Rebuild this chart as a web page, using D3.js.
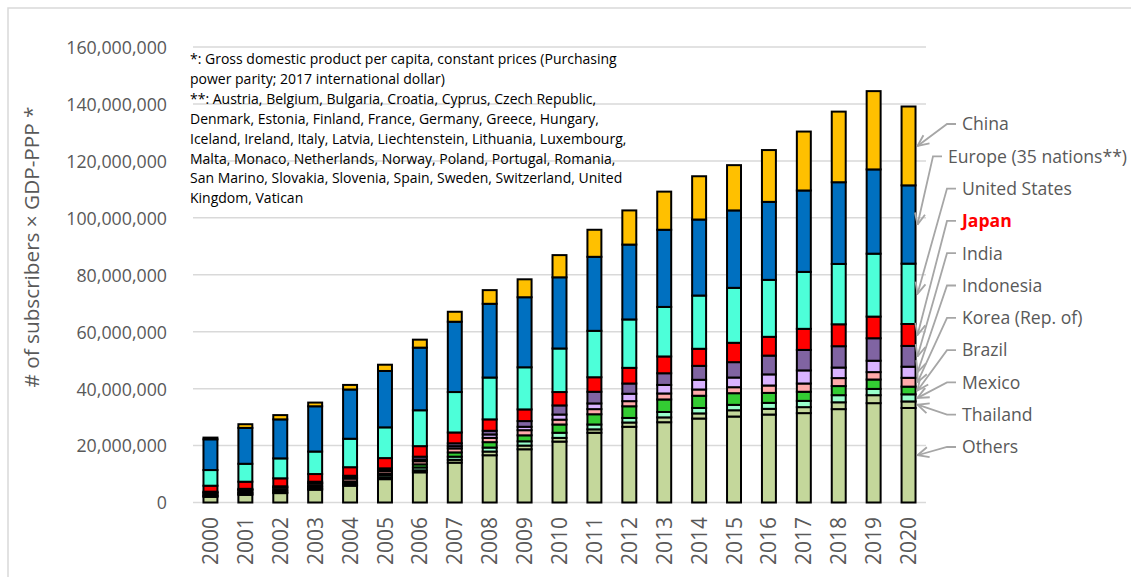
<!DOCTYPE html>
<html>
<head>
<meta charset="utf-8">
<script src="https://cdn.jsdelivr.net/npm/d3@7"></script>
<style>
html,body{margin:0;padding:0;background:#fff;}
svg{display:block;}
</style>
</head>
<body>
<svg id="chart" width="1131" height="577"></svg>
<script>
// ---- DATA (values in millions of "subscribers x GDP-PPP") ----
const years = ["2000","2001","2002","2003","2004","2005","2006","2007","2008","2009","2010",
               "2011","2012","2013","2014","2015","2016","2017","2018","2019","2020"];
const others   = [2.0,2.7,3.3,4.5,5.9,8.2,10.6,14.0,16.6,18.7,21.4,24.5,26.6,28.2,29.5,30.2,30.9,31.4,32.8,34.9,33.2];
const thailand = [0.2,0.2,0.2,0.3,0.3,0.5,0.7,1.0,1.3,1.3,1.3,1.2,1.5,1.7,1.8,2.2,2.0,2.1,2.4,2.8,2.3];
const mexico   = [0.3,0.4,0.4,0.5,0.6,0.8,1.0,1.1,1.4,1.5,1.8,1.7,1.6,1.9,1.9,1.9,2.1,2.2,2.5,2.2,2.5];
const brazil   = [0.3,0.4,0.5,0.5,0.6,0.6,1.1,1.5,1.9,2.1,2.9,3.6,4.1,4.4,4.3,4.1,3.5,3.2,3.2,3.3,2.7];
const korea    = [0.6,0.7,0.8,0.8,1.0,0.9,1.1,1.4,1.5,1.8,1.7,1.8,1.8,2.1,2.2,2.1,2.6,2.9,2.8,2.6,3.1];
const indonesia= [0.1,0.1,0.1,0.2,0.3,0.4,0.6,0.8,1.2,1.2,1.8,2.0,2.6,3.0,3.4,3.4,3.9,4.6,3.7,4.0,3.9];
const india    = [0.3,0.3,0.4,0.5,0.7,0.6,1.0,1.0,1.3,2.0,3.2,4.1,3.6,4.1,4.9,5.4,6.6,7.2,7.5,7.9,7.3];
const japan    = [2.1,2.5,2.8,2.7,3.0,3.6,3.7,3.8,4.0,4.1,4.7,5.1,5.5,5.9,6.0,6.8,6.6,7.4,7.7,7.6,7.7];
const unitedStates = [5.5,6.3,7.0,7.9,10.0,10.8,12.6,14.2,14.7,14.8,15.3,16.3,17.0,17.4,18.7,19.3,20.0,20.0,21.2,22.1,21.2];
const europe   = [10.8,12.6,13.7,15.9,17.3,19.8,22.0,24.7,25.9,24.6,25.0,26.0,26.3,27.1,26.7,27.2,27.4,28.6,28.7,29.6,27.5];
const china    = [0.6,1.3,1.5,1.3,1.6,2.2,2.8,3.5,4.8,6.3,7.8,9.5,12.0,13.4,15.2,15.9,18.2,20.7,24.8,27.5,27.7];

const seriesKeys   = ["Others","Thailand","Mexico","Brazil","Korea (Rep. of)","Indonesia","India","Japan","United States","Europe (35 nations**)","China"];
const seriesValues = [others,thailand,mexico,brazil,korea,indonesia,india,japan,unitedStates,europe,china];
const seriesColors = ["#c4d79b","#c4d79b","#99ffcc","#33cc33","#ffaaaa","#d9b3ff","#8064a2","#ff0000","#4dffd9","#0070c0","#ffc000"];
const yTicks = [0,20000000,40000000,60000000,80000000,100000000,120000000,140000000,160000000];
const yTitle = "# of subscribers \u00d7 GDP-PPP *";
const noteLines = [
  "*: Gross domestic product per capita, constant prices (Purchasing",
  "power parity; 2017 international dollar)",
  "**: Austria, Belgium, Bulgaria, Croatia, Cyprus, Czech Republic,",
  "Denmark, Estonia, Finland, France, Germany, Greece, Hungary,",
  "Iceland, Ireland, Italy, Latvia, Liechtenstein, Lithuania, Luxembourg,",
  "Malta, Monaco, Netherlands, Norway, Poland, Portugal, Romania,",
  "San Marino, Slovakia, Slovenia, Spain, Sweden, Switzerland, United",
  "Kingdom, Vatican"
];

// ---- TABLE ----
const table = years.map((yr,i)=>{
  const row = {year: yr};
  seriesKeys.forEach((k,j)=>{ row[k] = seriesValues[j][i]*1e6; });
  return row;
});

const svg = d3.select("#chart");
const gray = "#595959";
const font = "'Open Sans', 'Noto Sans', sans-serif";

// frame
svg.append("path").attr("d","M8,577 L8,8 L1131,8").attr("fill","none")
  .attr("stroke","#d9d9d9").attr("stroke-width",1.5);

const x = d3.scaleBand().domain(years).range([193,926]).paddingInner(0.6).paddingOuter(0.3);
const y = d3.scaleLinear().domain([0,160000000]).range([502.5,47]);

// gridlines
svg.append("g").selectAll("line").data(yTicks).join("line")
  .attr("x1",193).attr("x2",926)
  .attr("y1",d=>y(d)).attr("y2",d=>y(d))
  .attr("stroke","#d9d9d9").attr("stroke-width",1.5);

// y axis labels
const yAxis = d3.axisLeft(y).tickValues(yTicks).tickSize(0).tickPadding(0).tickFormat(d3.format(","));
const gy = svg.append("g").attr("transform","translate(167,0)").call(yAxis);
gy.select(".domain").remove();
gy.selectAll("text").attr("font-family",font).attr("font-size","17.8px").attr("fill",gray).attr("dy","0.36em");

// x axis labels
const xAxis = d3.axisBottom(x).tickSize(0).tickPadding(0);
const gx = svg.append("g").attr("transform","translate(0,517)").call(xAxis);
gx.select(".domain").remove();
gx.selectAll("text").attr("font-family",font).attr("font-size","21px").attr("fill",gray)
  .attr("text-anchor","end").attr("transform","rotate(-90)")
  .attr("x",0).attr("y",0).attr("dy","0.36em");

// y title
svg.append("text").attr("transform","translate(39,247) rotate(-90)")
  .attr("text-anchor","middle").attr("font-family",font).attr("font-size","19.5px")
  .attr("fill",gray).attr("textLength",281).attr("lengthAdjust","spacingAndGlyphs")
  .text(yTitle);

// stacked bars
const stack = d3.stack().keys(seriesKeys)(table);
svg.append("g").selectAll("g").data(stack).join("g")
  .attr("fill",(d,i)=>seriesColors[i])
  .selectAll("rect").data(d=>d).join("rect")
  .attr("x",d=>x(d.data.year))
  .attr("width",x.bandwidth())
  .attr("y",d=>y(d[1]))
  .attr("height",d=>y(d[0])-y(d[1]))
  .attr("stroke","#000").attr("stroke-width",2);

// notes
const note = svg.append("text").attr("font-family",font).attr("font-size","14px").attr("fill","#000");
noteLines.forEach((t,i)=>{
  note.append("tspan").attr("x",190).attr("y",64+i*19.9).text(t);
});

// arrow marker
const defs = svg.append("defs");
defs.append("marker").attr("id","arr").attr("viewBox","0 0 14 14").attr("refX",13).attr("refY",7)
  .attr("markerWidth",13).attr("markerHeight",13).attr("orient","auto").attr("markerUnits","userSpaceOnUse")
  .append("path").attr("d","M1,1.5 L13,7 L1,12.5").attr("fill","none").attr("stroke","#a6a6a6").attr("stroke-width",2);

// right labels with arrows (pointing into last bar segments)
const lastIdx = years.length-1;
const labelOrder = seriesKeys.slice().reverse(); // China at top
const labelX = {"Europe (35 nations**)":948};
const barRight = x(years[lastIdx]) + x.bandwidth() + 2;
labelOrder.forEach((k,i)=>{
  const si = seriesKeys.indexOf(k);
  const seg = stack[si][lastIdx];
  const ty = y((seg[0]+seg[1])/2);
  const ly = 124 + i*32.3;
  const lx = labelX[k] || 962;
  svg.append("path")
    .attr("d",`M${lx-6},${ly} L${lx-15},${ly} L${barRight},${ty}`)
    .attr("fill","none").attr("stroke","#a6a6a6").attr("stroke-width",1.8)
    .attr("marker-end","url(#arr)");
  svg.append("text").attr("x",lx).attr("y",ly).attr("dy","0.36em")
    .attr("font-family",font).attr("font-size","17.6px")
    .attr("fill",k==="Japan"?"#ff0000":gray)
    .attr("font-weight",k==="Japan"?"bold":"normal")
    .text(k);
});
</script>
</body>
</html>
